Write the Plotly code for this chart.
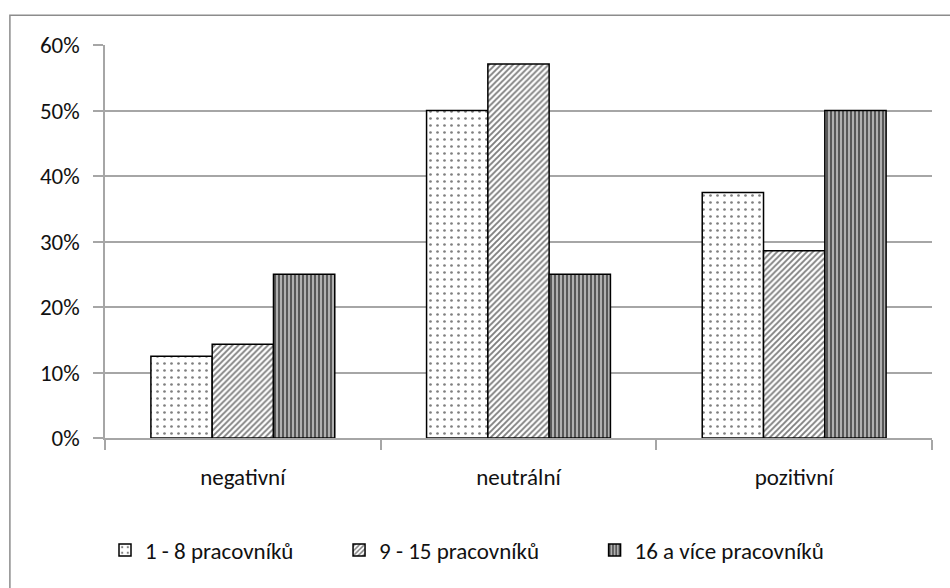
import plotly.graph_objects as go

categories = ["negativní", "neutrální", "pozitivní"]
series_names = ["1 - 8 pracovníků", "9 - 15 pracovníků", "16 a více pracovníků"]
small_firms = [0.125, 0.50, 0.375]
medium_firms = [0.143, 0.571, 0.286]
large_firms = [0.25, 0.25, 0.50]
y_ticks = [0, 0.1, 0.2, 0.3, 0.4, 0.5, 0.6]
y_tick_labels = ["0%", "10%", "20%", "30%", "40%", "50%", "60%"]

FONT = "Carlito, Lato, sans-serif"
FONT_SIZE = 23
GRID = "#a6a6a6"

patterns = [
    dict(shape=".", size=7, solidity=0.12, fgcolor="black", bgcolor="white"),
    dict(shape="/", size=4.2, solidity=0.45, fgcolor="black", bgcolor="white"),
    dict(shape="|", size=4, solidity=0.5, fgcolor="black", bgcolor="#b0b0b0"),
]
legend_ids = ["legend", "legend2", "legend3"]
legend_x = [0.0, 0.283, 0.592]

fig = go.Figure()
for name, vals, pat, lg in zip(series_names, [small_firms, medium_firms, large_firms], patterns, legend_ids):
    fig.add_trace(go.Bar(
        x=categories, y=vals, name=name, legend=lg,
        marker=dict(color="white", pattern=pat, line=dict(color="black", width=1.5)),
    ))

legend_style = dict(
    orientation="h", xanchor="left", y=-0.285, yanchor="middle",
    font=dict(family=FONT, size=FONT_SIZE), itemwidth=30,
    bgcolor="rgba(0,0,0,0)",
)

fig.update_layout(
    width=950, height=588,
    margin=dict(l=105, r=18, t=45, b=150),
    paper_bgcolor="white", plot_bgcolor="white",
    barmode="group", bargap=0.333, bargroupgap=0,
    font=dict(family=FONT, size=FONT_SIZE, color="#111111"),
    showlegend=True,
    legend=dict(x=legend_x[0], **legend_style),
    legend2=dict(x=legend_x[1], **legend_style),
    legend3=dict(x=legend_x[2], **legend_style),
    shapes=[dict(
        type="rect", xref="paper", yref="paper",
        x0=-0.115, x1=1.2, y0=-0.45, y1=1.076,
        line=dict(color="#8c8c8c", width=1.5), fillcolor="rgba(0,0,0,0)", layer="below",
    )],
)

fig.update_xaxes(
    showline=True, linecolor=GRID, linewidth=1.5,
    ticks="outside", ticklen=10, tickcolor=GRID, tickwidth=1.5,
    tickson="boundaries", ticklabelstandoff=18, showgrid=False,
)
fig.update_yaxes(
    range=[0, 0.6], tickvals=y_ticks, ticktext=y_tick_labels,
    showline=True, linecolor=GRID, linewidth=1.5,
    ticks="outside", ticklen=10, tickcolor=GRID, tickwidth=1.5,
    showgrid=True, gridcolor=GRID, gridwidth=1.5,
    ticklabelstandoff=9, zeroline=False,
)

fig.write_html("out.html")
